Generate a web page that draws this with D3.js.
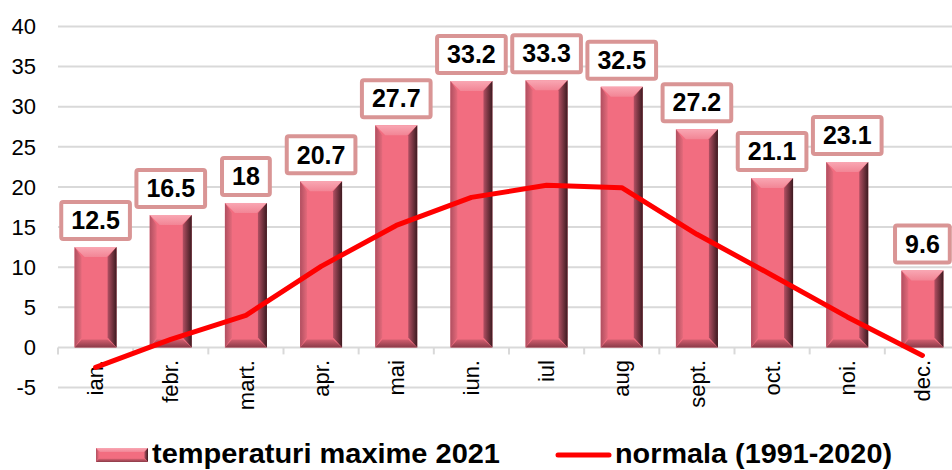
<!DOCTYPE html>
<html>
<head>
<meta charset="utf-8">
<script src="https://cdn.jsdelivr.net/npm/d3@7"></script>
<style>
  body { margin: 0; background: #fff; }
  svg { display: block; font-family: "Liberation Sans", Arial, sans-serif; }
</style>
</head>
<body>
<svg id="chart" width="952" height="470"></svg>
<script>
const months = ['ian.', 'febr.', 'mart.', 'apr.', 'mai', 'iun.', 'iul', 'aug', 'sept.', 'oct.', 'noi.', 'dec.']
const maxTemps = [12.5, 16.5, 18, 20.7, 27.7, 33.2, 33.3, 32.5, 27.2, 21.1, 23.1, 9.6]
const normals = [-2.5, 1.0, 4.0, 10.1, 15.2, 18.7, 20.2, 19.9, 14.1, 9.0, 3.8, -1.0]
const yTicks = [-5, 0, 5, 10, 15, 20, 25, 30, 35, 40]
const barName = 'temperaturi maxime 2021'
const lineName = 'normala (1991-2020)'

const svg = d3.select('#chart')
const left = 58, right = 960
const x = d3.scaleBand().domain(months).range([left, right]).padding(0)
const y = d3.scaleLinear().domain([-5, 40]).range([387.5, 26.5])

const defs = svg.append('defs')
const rg = defs.append('linearGradient').attr('id', 'bevR').attr('x1', 0).attr('x2', 1)
rg.append('stop').attr('offset', 0).attr('stop-color', '#b25063')
rg.append('stop').attr('offset', 1).attr('stop-color', '#3c1a20')
const lg = defs.append('linearGradient').attr('id', 'bevL').attr('x1', 0).attr('x2', 1)
lg.append('stop').attr('offset', 0).attr('stop-color', '#b04f60')
lg.append('stop').attr('offset', 1).attr('stop-color', '#e46a7b')
const tg = defs.append('linearGradient').attr('id', 'bevT').attr('x1', 0).attr('x2', 0).attr('y1', 0).attr('y2', 1)
tg.append('stop').attr('offset', 0).attr('stop-color', '#f9a7b3')
tg.append('stop').attr('offset', 1).attr('stop-color', '#f28595')
const bg = defs.append('linearGradient').attr('id', 'bevB').attr('x1', 0).attr('x2', 0).attr('y1', 0).attr('y2', 1)
bg.append('stop').attr('offset', 0).attr('stop-color', '#d45f70')
bg.append('stop').attr('offset', 1).attr('stop-color', '#8a3a48')

// gridlines
svg.append('g').selectAll('line').data(yTicks).enter().append('line')
    .attr('x1', left).attr('x2', 952)
    .attr('y1', d => y(d)).attr('y2', d => y(d))
    .attr('stroke', '#d9d9d9').attr('stroke-width', 2)

// category ticks on zero line
svg.append('g').selectAll('line').data(d3.range(months.length + 1)).enter().append('line')
    .attr('x1', i => left + i * x.step()).attr('x2', i => left + i * x.step())
    .attr('y1', y(0)).attr('y2', y(0) + 7)
    .attr('stroke', '#d9d9d9').attr('stroke-width', 2)

// y labels
svg.append('g').selectAll('text').data(yTicks).enter().append('text')
    .attr('x', 36).attr('y', d => y(d)).attr('dy', '0.35em')
    .attr('text-anchor', 'end').attr('font-size', 22).attr('fill', '#000')
    .text(d => d)

// x labels
svg.append('g').selectAll('text').data(months).enter().append('text')
    .attr('transform', d => `translate(${x(d) + x.bandwidth() / 2},360) rotate(-90)`)
    .attr('dy', '0.35em').attr('text-anchor', 'end').attr('font-size', 22).attr('fill', '#000')
    .text(d => d)

function bevelBar(g, x0, y0, w, h, b) {
    b = Math.min(b, w / 2, h / 2)
    g.append('rect').attr('x', x0).attr('y', y0).attr('width', w).attr('height', h).attr('fill', '#f26d80')
    const x1 = x0 + w, y1 = y0 + h
    g.append('polygon').attr('fill', 'url(#bevT)')
        .attr('points', [[x0, y0], [x1, y0], [x1 - b, y0 + b], [x0 + b, y0 + b]].join(' '))
    g.append('polygon').attr('fill', 'url(#bevL)')
        .attr('points', [[x0, y0], [x0 + b * 0.7, y0 + b], [x0 + b * 0.7, y1 - b], [x0, y1]].join(' '))
    g.append('polygon').attr('fill', 'url(#bevR)')
        .attr('points', [[x1, y0], [x1 - b * 0.9, y0 + b], [x1 - b * 0.9, y1 - b], [x1, y1]].join(' '))
    g.append('polygon').attr('fill', 'url(#bevB)')
        .attr('points', [[x0, y1], [x0 + b * 0.7, y1 - b * 0.8], [x1 - b * 0.9, y1 - b * 0.8], [x1, y1]].join(' '))
}

const barW = 42
const bars = svg.append('g')
months.forEach((m, i) => {
    const cx = x(m) + x.bandwidth() / 2
    bevelBar(bars.append('g'), cx - barW / 2, y(maxTemps[i]), barW, y(0) - y(maxTemps[i]), 10)
})

// normal line
svg.append('path').datum(normals)
    .attr('d', d3.line().x((d, i) => x(months[i]) + x.bandwidth() / 2).y(d => y(d)))
    .attr('fill', 'none').attr('stroke', '#ff0000').attr('stroke-width', 5)
    .attr('stroke-linejoin', 'round').attr('stroke-linecap', 'round')

// data labels
const labels = svg.append('g')
months.forEach((m, i) => {
    const cx = x(m) + x.bandwidth() / 2
    const bottom = y(maxTemps[i]) - 6
    const g = labels.append('g')
    const t = g.append('text').attr('x', cx).attr('y', bottom - 20.5).attr('dy', '0.35em')
        .attr('text-anchor', 'middle').attr('font-size', 25).attr('font-weight', 'bold').attr('fill', '#000')
        .text(maxTemps[i])
    const tw = t.node().getComputedTextLength()
    g.insert('rect', 'text')
        .attr('x', cx - tw / 2 - 10).attr('y', bottom - 39).attr('width', tw + 20).attr('height', 37)
        .attr('fill', '#fff').attr('stroke', '#d99595').attr('stroke-width', 4).attr('rx', 2)
})

// legend
const leg = svg.append('g')
bevelBar(leg.append('g'), 96, 448, 52, 14, 4)
leg.append('text').attr('x', 152).attr('y', 463).attr('font-size', 28).attr('font-weight', 'bold')
    .attr('textLength', 348).attr('lengthAdjust', 'spacingAndGlyphs').text(barName)
leg.append('line').attr('x1', 558).attr('x2', 609).attr('y1', 455).attr('y2', 455)
    .attr('stroke', '#ff0000').attr('stroke-width', 5).attr('stroke-linecap', 'round')
leg.append('text').attr('x', 615).attr('y', 463).attr('font-size', 28).attr('font-weight', 'bold')
    .attr('textLength', 277).attr('lengthAdjust', 'spacingAndGlyphs').text(lineName)
</script>
</body>
</html>
